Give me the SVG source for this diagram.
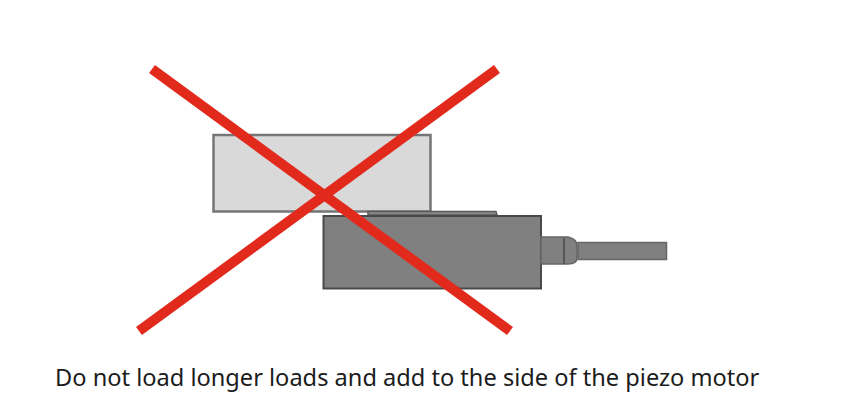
<svg xmlns="http://www.w3.org/2000/svg" width="848" height="420" viewBox="0 0 848 420">
<defs><filter id="soft" x="-5%" y="-5%" width="110%" height="110%"><feGaussianBlur stdDeviation="0.6"/></filter></defs>
<style>
.d{fill:#808080;stroke:#4a4a4a;stroke-width:2}
.x{fill:none;stroke:#e12b1f;stroke-width:10}
text{font-family:"Noto Sans","Open Sans",sans-serif;font-size:23.6px;fill:#1c1c1c}
</style>
<rect width="848" height="420" fill="#fff"/>
<g id="load" filter="url(#soft)"><rect x="213.500" y="135" width="217" height="76.500" fill="#d9d9d9" stroke="#757575" stroke-width="2.500"/></g>
<g id="motor" filter="url(#soft)">
<path d="M368 215V211.500H496L497 215Z" fill="#8a8a8a" stroke="#5a5a5a" stroke-width="1.500"/>
<rect class="d" x="323.500" y="216" width="217.500" height="72.500"/>
<path d="M541 237H568Q577 239 577 246V258Q577 264 568 264H541Z" fill="#808080" stroke="#666" stroke-width="1.500"/>
<path d="M564 238V264" stroke="#4a4a4a" stroke-width="1.500" fill="none"/>
<rect x="578" y="242.500" width="88.500" height="17" fill="#808080" stroke="#666" stroke-width="1.500"/>
</g>
<g id="cross" filter="url(#soft)">
<path class="x" d="M152 69L510 331"/>
<path class="x" d="M497 69L139 331"/>
</g>
<text id="caption" x="55" y="386">Do not load longer loads and add to the side of the piezo motor</text>
</svg>
